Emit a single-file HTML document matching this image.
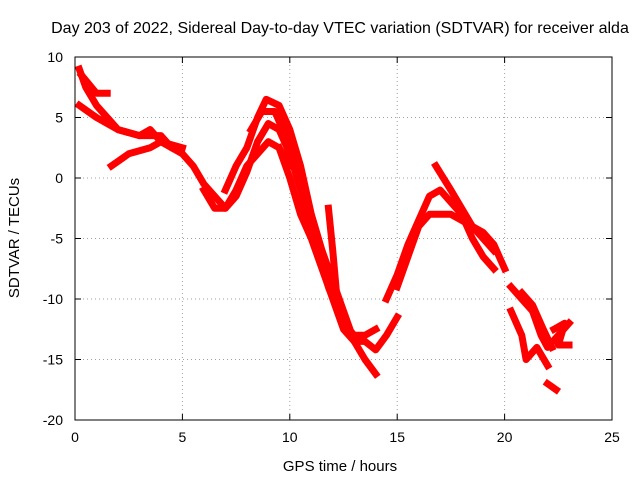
<!DOCTYPE html>
<html><head><meta charset="utf-8"><style>
body{margin:0;background:#fff;}
svg{font-family:"Liberation Sans",sans-serif;font-size:14px;}
</style></head><body>
<svg id="chart" width="640" height="480" xmlns="http://www.w3.org/2000/svg">
<text x="340" y="33" text-anchor="middle" font-size="16">Day 203 of 2022, Sidereal Day-to-day VTEC variation (SDTVAR) for receiver alda</text>
<g id="grid"></g><g id="series"></g><g id="axes"></g>
<text x="340" y="471" text-anchor="middle" font-size="15">GPS time / hours</text>
<text transform="translate(19,238) rotate(-90)" text-anchor="middle" font-size="15">SDTVAR / TECUs</text>
</svg>
<script>
const xTicks=[0,5,10,15,20,25];
const yTicks=[10,5,0,-5,-10,-15,-20];
const trackA=[[0.2,9],[0.5,7.5],[1,6],[1.5,5],[2,4],[3,3.5],[4,3.5],[4.5,2.5],[5,2],[5.5,1],[6,-0.5],[6.5,-1.5],[7,-2.5],[7.5,-1.5],[8,0.5],[8.5,3],[9,4.5],[9.5,4],[10,2],[10.5,-1],[11,-4],[11.5,-7],[12,-9.5],[12.5,-12],[13,-13],[13.5,-13],[14,-12.5]];
const trackB=[[0.2,6],[1,5],[2,4],[3,3.5],[3.5,4],[4,3],[5,2.5]];
const trackC=[[1.7,1],[2.5,2],[3.5,2.5],[4,3],[4.5,2.5]];
const trackD=[[0.3,8.5],[1,7],[1.5,7]];
const trackE=[[7,-1],[7.5,1],[8,2.5],[8.5,5],[8.9,6.5],[9.5,6],[10,4],[10.5,1],[11,-3],[11.5,-6],[12,-8.5],[12.5,-11],[13,-13.5],[13.5,-15],[14,-16.2]];
const trackF=[[9.5,2.5],[10,0],[10.5,-3],[11,-5],[11.5,-7.5],[12,-10],[12.5,-12.5],[13,-13.5],[13.5,-13.5],[14,-14.2],[14.5,-13],[15,-11.5]];
const trackG=[[14.5,-10],[15,-8],[15.5,-5.5],[16,-3.5],[16.5,-1.5],[17,-1],[17.5,-2],[18,-3],[18.5,-5],[19,-6.5],[19.5,-7.5]];
const trackH=[[15,-9],[15.5,-6.5],[16,-4],[16.5,-3],[17,-3],[17.5,-3],[18,-3.5],[18.5,-4],[19,-4.5],[19.5,-5.5],[20,-7.5]];
const trackI=[[16.8,1],[17.5,-1],[18,-2.5],[18.5,-4],[19,-5],[19.5,-6]];
const trackJ=[[20.3,-9],[20.8,-10],[21.3,-11],[21.7,-13],[22,-14],[22.5,-13],[23,-12]];
const trackK=[[20.3,-11],[20.8,-13],[21,-15],[21.5,-14],[22,-15.5]];
const trackL=[[22,-17],[22.4,-17.5]];
const trackM=[[6,-1],[6.5,-2.5],[7,-2.5],[7.5,-1],[8,1],[8.5,2],[9,3],[9.5,2.5],[10,1]];
const trackN=[[11.8,-2.5],[12,-6],[12.2,-10],[12.6,-12.5]];
const trackO=[[8.2,4],[8.7,5.5],[9.3,5.5],[9.8,3.5],[10.3,0.5],[10.8,-3],[11.3,-6],[11.8,-9]];
const trackP=[[22.3,-12.5],[22.8,-12],[22.5,-13.8],[23,-13.8]];
const trackQ=[[20.8,-9.5],[21.3,-10.5],[21.8,-12.5],[22.2,-14]];
const tracks=[trackA,trackB,trackC,trackD,trackE,trackF,trackG,trackH,trackI,trackJ,trackK,trackL,trackM,trackN,trackO,trackP,trackQ];
const X0=75,X1=612,Y0=420,Y1=57;
const sx=v=>X0+(v-0)/(25-0)*(X1-X0);
const sy=v=>Y0-(v+20)/(10+20)*(Y0-Y1);
const NS="http://www.w3.org/2000/svg";
function mk(tag,attrs,parent){const e=document.createElementNS(NS,tag);for(const k in attrs)e.setAttribute(k,attrs[k]);parent.appendChild(e);return e;}
const grid=document.getElementById('grid'),axes=document.getElementById('axes'),ser=document.getElementById('series');
xTicks.forEach(t=>{const x=sx(t);
 if(t>0&&t<25){const l=mk('line',{x1:x,x2:x,y1:Y1,y2:Y0,stroke:'#a0a0a0','stroke-dasharray':'1,3'},grid);}
 mk('line',{x1:x,x2:x,y1:Y0,y2:Y0-6,stroke:'#000'},axes);mk('line',{x1:x,x2:x,y1:Y1,y2:Y1+6,stroke:'#000'},axes);
 const tx=mk('text',{x:x,y:Y0+22,'text-anchor':'middle'},axes);tx.textContent=t;
 
 });
yTicks.forEach(t=>{const y=sy(t);
 if(t>-20&&t<10){const l=mk('line',{x1:X0,x2:X1,y1:y,y2:y,stroke:'#a0a0a0','stroke-dasharray':'1,3'},grid);}
 mk('line',{x1:X0,x2:X0+6,y1:y,y2:y,stroke:'#000'},axes);mk('line',{x1:X1,x2:X1-6,y1:y,y2:y,stroke:'#000'},axes);
 const tx=mk('text',{x:X0-12,y:y+5,'text-anchor':'end'},axes);tx.textContent=t;
 
 });
const b=mk('rect',{x:X0,y:Y1,width:X1-X0,height:Y0-Y1,fill:'none',stroke:'#000'},axes);


tracks.forEach((tr,i)=>{
 const p=mk('polyline',{points:tr.map(d=>sx(d[0])+','+sy(d[1])).join(' '),fill:'none',stroke:'#f00','stroke-width':7,'stroke-linejoin':'round','stroke-linecap':'square'},ser);
 
 
});
</script>
</body></html>
